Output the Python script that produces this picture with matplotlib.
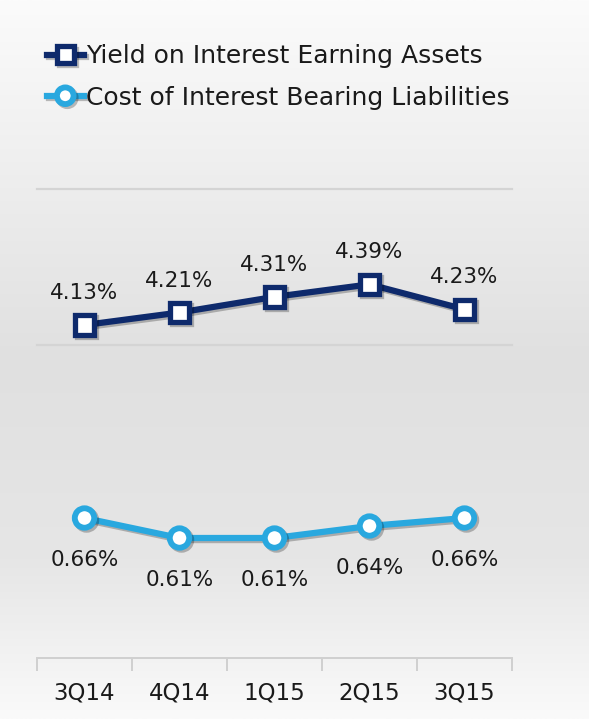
import numpy as np
import matplotlib
matplotlib.use("Agg")
import matplotlib.pyplot as plt
import matplotlib.patheffects as pe
from matplotlib.colors import LinearSegmentedColormap

# ---- data ----
quarters = ["3Q14", "4Q14", "1Q15", "2Q15", "3Q15"]
yield_assets = [4.13, 4.21, 4.31, 4.39, 4.23]
cost_liabilities = [0.66, 0.61, 0.61, 0.64, 0.66]
series_names = ["Yield on Interest Earning Assets", "Cost of Interest Bearing Liabilities"]
yield_labels = ["4.13%", "4.21%", "4.31%", "4.39%", "4.23%"]
cost_labels = ["0.66%", "0.61%", "0.61%", "0.64%", "0.66%"]

NAVY = "#0e2a6c"
SKY = "#29a8df"
TXT = "#1a1a1a"
FONT = "DejaVu Sans"

W, H = 589, 719
fig = plt.figure(figsize=(W / 100, H / 100), dpi=100)

# background gradient
bg = fig.add_axes([0, 0, 1, 1], zorder=-10)
cmap = LinearSegmentedColormap.from_list(
    "bg", [(0.0, "#fbfbfb"), (0.15, "#f3f3f3"), (0.50, "#e0e0e0"),
           (0.78, "#e6e6e6"), (1.0, "#fafafa")])
grad = np.linspace(0, 1, 256).reshape(-1, 1)
bg.imshow(grad, aspect="auto", cmap=cmap, extent=[0, 1, 0, 1], vmin=0, vmax=1,
          origin="upper")
bg.axis("off")

left, right, top, bottom = 37, 512, 189, 658
ax = fig.add_axes([left / W, 1 - bottom / H, (right - left) / W, (bottom - top) / H])
ax.patch.set_alpha(0)
x = np.arange(len(quarters))
ax.set_xlim(-0.5, len(quarters) - 0.5)
ax.set_ylim(2.0, 5.0)

for gv in (4.0, 5.0):
    ax.axhline(gv, color="#d4d4d4", lw=1.6, zorder=1, clip_on=False)

for s in ("top", "right", "left"):
    ax.spines[s].set_visible(False)
ax.spines["bottom"].set_color("#d0d0d0")
ax.spines["bottom"].set_linewidth(1.4)
ax.set_yticks([])
ax.set_xticks(x)
ax.set_xticklabels(quarters, fontsize=16.5, color=TXT, family=FONT)
ax.tick_params(axis="x", which="major", length=0, pad=17)
ax.set_xticks(np.arange(-0.5, len(quarters), 1.0), minor=True)
ax.tick_params(axis="x", which="minor", length=9, width=1.4, color="#d0d0d0", direction="out")

shadow = [pe.SimpleLineShadow(offset=(1.5, -1.5), shadow_color="#000000", alpha=0.25), pe.Normal()]

l1, = ax.plot(x, yield_assets, color=NAVY, lw=4.5, marker="s", markersize=14,
              markerfacecolor="white", markeredgecolor=NAVY, markeredgewidth=3.8,
              zorder=5, path_effects=shadow, label=series_names[0])
for xi, yi, lab in zip(x, yield_assets, yield_labels):
    ax.annotate(lab, (xi, yi), xytext=(0, 23), textcoords="offset points",
                ha="center", va="center", fontsize=15.5, color=TXT, family=FONT)

ax2 = ax.twinx()
ax2.patch.set_alpha(0)
ax2.set_ylim(0.31, 1.4825)
ax2.set_yticks([])
for s in ("top", "right", "left", "bottom"):
    ax2.spines[s].set_visible(False)

l2, = ax2.plot(x, cost_liabilities, color=SKY, lw=4.5, marker="o", markersize=14,
               markerfacecolor="white", markeredgecolor=SKY, markeredgewidth=4.2,
               zorder=5, path_effects=shadow, label=series_names[1])
for xi, yi, lab in zip(x, cost_liabilities, cost_labels):
    ax2.annotate(lab, (xi, yi), xytext=(0, -30), textcoords="offset points",
                 ha="center", va="center", fontsize=15.5, color=TXT, family=FONT)

leg = fig.legend(handles=[l1, l2], labels=series_names, loc="upper left",
                 bbox_to_anchor=(24 / W, 1 - 22 / H), frameon=False,
                 handlelength=1.5, handletextpad=0.1, labelspacing=0.68,
                 prop={"family": FONT, "size": 18})
for h in leg.legend_handles:
    h.set_markersize(12)
for t in leg.get_texts():
    t.set_color(TXT)

fig.savefig("out.png", dpi=100)
